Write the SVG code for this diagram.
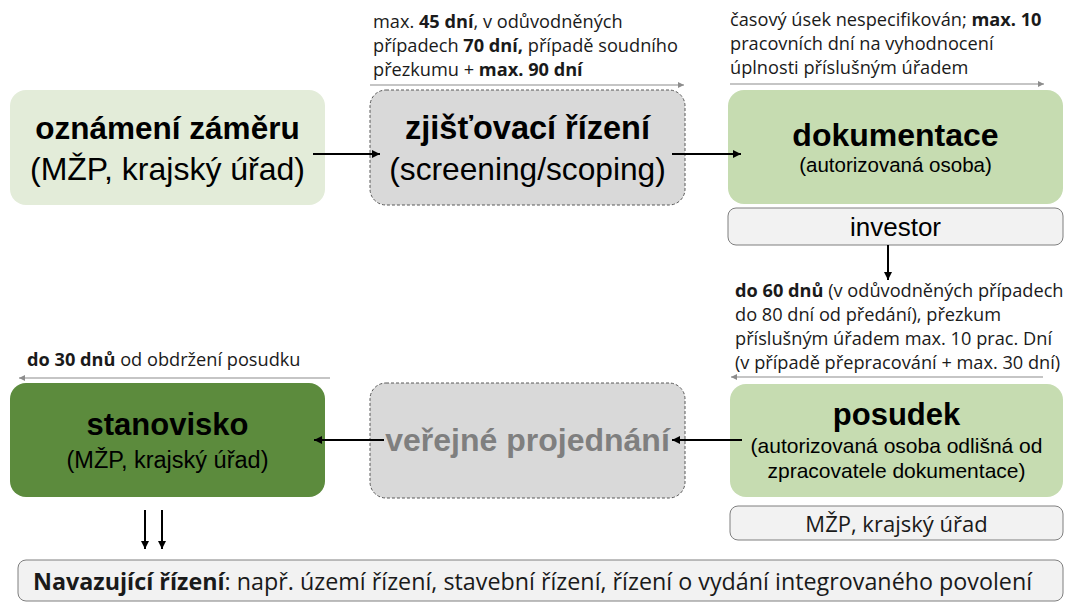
<svg xmlns="http://www.w3.org/2000/svg" width="1068" height="606" viewBox="0 0 1068 606">
<defs>
<style>
.ar{font-family:"Liberation Sans",Arial,sans-serif;fill:#000;text-anchor:middle}
.cb{font-family:"Open Sans","Liberation Sans",sans-serif;fill:#1a1a1a}
.b{font-weight:700}
.conn{stroke:#000;stroke-width:2;fill:none}
.gconn{stroke:#8c8c8c;stroke-width:1.2;fill:none}
.small{fill:#f2f2f2;stroke:#7f7f7f;stroke-width:1}
.dash{fill:#d9d9d9;stroke:#595959;stroke-width:1;stroke-dasharray:3 2}
</style>
<marker id="ah" viewBox="0 0 10 10" refX="10" refY="5" markerWidth="4" markerHeight="4" orient="auto" markerUnits="strokeWidth">
<path d="M0,0 L10,5 L0,10 z" fill="#000"/>
</marker>
<marker id="gh" viewBox="0 0 10 10" refX="10" refY="5" markerWidth="6" markerHeight="5" orient="auto" markerUnits="strokeWidth">
<path d="M0,0 L10,5 L0,10 z" fill="#8c8c8c"/>
</marker>
</defs>
<rect width="1068" height="606" fill="#fff"/>

<g id="n-oznameni">
<rect x="10" y="90" width="315" height="115" rx="16" fill="#e3ecd9"/>
<text class="ar b" x="167.5" y="139" font-size="31.5">oznámení záměru</text>
<text class="ar" x="167.5" y="180" font-size="32">(MŽP, krajský úřad)</text>
</g>

<g id="n-zjistovaci">
<rect class="dash" x="370" y="90" width="315" height="115" rx="16"/>
<text class="ar b" x="527.5" y="139" font-size="32.5">zjišťovací řízení</text>
<text class="ar" x="527.5" y="180" font-size="31.7">(screening/scoping)</text>
</g>

<g id="n-dokumentace">
<rect x="728" y="90" width="335" height="114" rx="16" fill="#c6dcb1"/>
<text class="ar b" x="895.5" y="146" font-size="32">dokumentace</text>
<text class="ar" x="895.5" y="172" font-size="20.5">(autorizovaná osoba)</text>
</g>

<g id="n-investor">
<rect class="small" x="728" y="208" width="335" height="37" rx="8"/>
<text class="ar" x="895.5" y="236" font-size="26">investor</text>
</g>

<g id="n-posudek">
<rect x="730" y="384" width="333" height="113" rx="16" fill="#c6dcb1"/>
<text class="ar b" x="896.5" y="425" font-size="31">posudek</text>
<text class="ar" x="896.5" y="453" font-size="21">(autorizovaná osoba odlišná od</text>
<text class="ar" x="896.5" y="478" font-size="21">zpracovatele dokumentace)</text>
</g>

<g id="n-mzp">
<rect class="small" x="730" y="506" width="333" height="34" rx="8"/>
<text class="cb" x="896.5" y="532" font-size="22" text-anchor="middle">MŽP, krajský úřad</text>
</g>

<g id="n-verejne">
<rect class="dash" x="370" y="383" width="315" height="115" rx="16"/>
<text class="ar b" x="527.5" y="451" font-size="32" style="fill:#7f7f7f">veřejné projednání</text>
</g>

<g id="n-stanovisko">
<rect x="10" y="383" width="315" height="114" rx="16" fill="#5c8b3d"/>
<text class="ar b" x="167.5" y="435" font-size="31">stanovisko</text>
<text class="ar" x="167.5" y="468" font-size="23.5">(MŽP, krajský úřad)</text>
</g>

<g id="n-navazujici">
<rect class="small" x="18" y="560" width="1045" height="41" rx="8"/>
<text class="cb" x="33" y="590" font-size="23.3"><tspan class="b">Navazující řízení</tspan>: např. území řízení, stavební řízení, řízení o vydání integrovaného povolení</text>
</g>

<g id="labels">
<text class="cb" x="373" y="28" font-size="18.2">max. <tspan class="b">45 dní</tspan>, v odůvodněných</text>
<text class="cb" x="373" y="52" font-size="18.2">případech <tspan class="b">70 dní,</tspan> případě soudního</text>
<text class="cb" x="373" y="76" font-size="18.2">přezkumu + <tspan class="b">max. 90 dní</tspan></text>
<text class="cb" x="730" y="26" font-size="18.2">časový úsek nespecifikován; <tspan class="b">max. 10</tspan></text>
<text class="cb" x="730" y="50" font-size="18.2">pracovních dní na vyhodnocení</text>
<text class="cb" x="730" y="74" font-size="18.2">úplnosti příslušným úřadem</text>
<text class="cb" x="735" y="297" font-size="18.2"><tspan class="b">do 60 dnů</tspan> (v odůvodněných případech</text>
<text class="cb" x="735" y="321" font-size="18.2">do 80 dní od předání), přezkum</text>
<text class="cb" x="735" y="345" font-size="18.2">příslušným úřadem max. 10 prac. Dní</text>
<text class="cb" x="735" y="369" font-size="18.2">(v případě přepracování + max. 30 dní)</text>
<text class="cb" x="27" y="366" font-size="18.2"><tspan class="b">do 30 dnů</tspan> od obdržení posudku</text>
</g>

<g id="connectors">
<line class="conn" x1="313" y1="154" x2="380" y2="154" marker-end="url(#ah)"/>
<line class="conn" x1="672" y1="154" x2="741" y2="154" marker-end="url(#ah)"/>
<line class="conn" x1="888" y1="245" x2="888" y2="280" marker-end="url(#ah)"/>
<line class="conn" x1="742" y1="440" x2="672" y2="440" marker-end="url(#ah)"/>
<line class="conn" x1="384" y1="440" x2="314" y2="440" marker-end="url(#ah)"/>
<line class="conn" x1="145" y1="510" x2="145" y2="549" marker-end="url(#ah)"/>
<line class="conn" x1="162" y1="510" x2="162" y2="549" marker-end="url(#ah)"/>
<line class="gconn" x1="370" y1="85" x2="684" y2="85" marker-end="url(#gh)"/>
<line class="gconn" x1="730" y1="84" x2="1044" y2="84" marker-end="url(#gh)"/>
<line class="gconn" x1="1043" y1="377" x2="731" y2="377" marker-end="url(#gh)"/>
<line class="gconn" x1="330" y1="378" x2="19" y2="378" marker-end="url(#gh)"/>
</g>
</svg>
